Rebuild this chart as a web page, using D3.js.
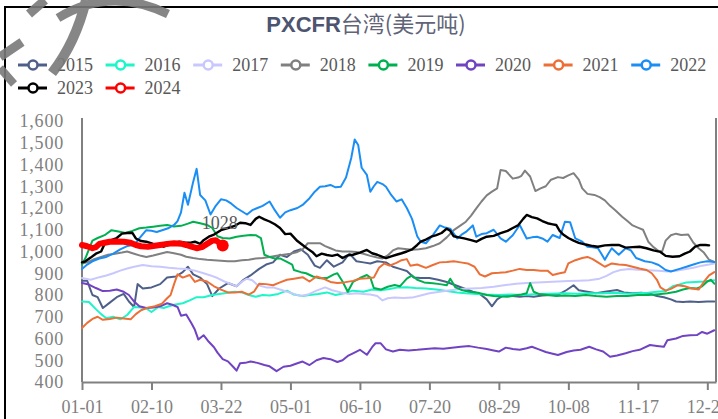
<!DOCTYPE html>
<html>
<head>
<meta charset="utf-8">
<script src="https://cdn.jsdelivr.net/npm/d3@7"></script>
<style>
  body { margin: 0; background: #fff; }
  svg { display: block; }
</style>
</head>
<body>
<div id="chart"></div>
<script>
// series: [day of year, USD/t]
const years = ["2015", "2016", "2017", "2018", "2019", "2020", "2021", "2022", "2023", "2024"];
const colors = ["#4e6089", "#1ef5c8", "#c8c8ff", "#808080", "#00b050", "#7043c2", "#eb6f36", "#1b8ef5", "#000000", "#ff0000"];

const s2015 = [[0,865],[3,865],[6,800],[9,790],[12,740],[16,765],[20,790],[24,805],[27,770],[30,745],[32,850],[35,830],[40,835],[45,850],[49,880],[54,885],[58,905],[61,930],[64,895],[68,880],[72,850],[75,795],[79,830],[84,855],[89,840],[93,870],[97,890],[102,920],[106,940],[110,950],[114,985],[118,975],[122,1000],[126,1010],[130,985],[134,935],[137,925],[141,960],[145,930],[150,950],[154,990],[158,955],[162,950],[166,945],[170,955],[175,950],[179,930],[183,920],[187,910],[191,880],[195,878],[200,878],[205,870],[210,860],[215,845],[220,830],[225,815],[229,805],[233,780],[236,748],[239,780],[243,800],[248,795],[252,792],[256,795],[260,792],[265,798],[270,800],[275,805],[279,823],[283,845],[286,822],[291,815],[296,808],[301,815],[305,820],[308,823],[312,812],[317,808],[322,810],[327,806],[331,795],[335,790],[339,780],[342,770],[346,768],[350,770],[355,768],[360,770],[364,770]];

const s2016 = [[0,770],[4,768],[8,735],[11,712],[14,693],[18,700],[22,688],[26,708],[30,745],[34,742],[37,738],[40,722],[44,745],[47,740],[50,748],[53,755],[58,762],[62,775],[66,790],[70,790],[75,800],[79,805],[84,810],[88,815],[92,812],[96,800],[100,792],[104,800],[108,798],[113,805],[118,820],[122,802],[127,795],[131,800],[136,805],[141,812],[146,800],[151,808],[156,820],[162,815],[167,825],[172,822],[177,828],[182,835],[187,836],[192,832],[198,830],[204,825],[210,818],[216,812],[221,808],[227,805],[233,802],[240,800],[247,802],[254,800],[262,805],[270,806],[278,808],[285,806],[292,808],[300,808],[307,810],[314,806],[320,808],[326,810],[331,815],[336,818],[340,840],[344,848],[348,858],[353,860],[358,862],[364,868]];

const s2017 = [[0,878],[5,870],[10,882],[14,890],[18,900],[22,912],[26,922],[30,930],[35,938],[40,932],[45,930],[50,925],[55,922],[60,920],[65,912],[70,900],[74,890],[78,878],[82,862],[86,850],[89,840],[92,862],[95,875],[98,868],[101,846],[106,835],[110,835],[114,825],[118,815],[122,805],[126,795],[130,802],[135,820],[140,835],[144,822],[149,812],[154,805],[158,808],[162,805],[166,802],[170,795],[173,775],[176,785],[180,788],[185,786],[190,788],[195,798],[200,808],[206,815],[212,822],[218,828],[224,830],[230,832],[237,838],[244,846],[250,852],[256,855],[262,858],[268,860],[274,862],[280,864],[286,866],[292,868],[298,875],[302,888],[306,905],[310,915],[315,920],[320,916],[326,914],[332,912],[337,908],[342,912],[347,918],[352,925],[357,935],[361,940],[364,945]];

const s2018 = [[0,945],[3,950],[7,965],[11,975],[15,985],[19,990],[23,995],[26,1000],[30,990],[34,980],[37,975],[41,982],[45,990],[49,998],[53,992],[57,985],[60,976],[64,970],[68,965],[72,962],[76,960],[80,958],[84,955],[88,955],[92,960],[96,962],[100,968],[104,970],[108,975],[112,980],[116,985],[120,990],[124,998],[127,1010],[130,1038],[134,1038],[137,1038],[140,1025],[143,1015],[146,1005],[150,1000],[154,1000],[158,998],[162,990],[166,980],[170,972],[173,968],[176,982],[179,1005],[182,1015],[186,1012],[190,1008],[194,1010],[198,1015],[202,1025],[206,1038],[210,1065],[214,1098],[218,1120],[221,1137],[224,1165],[227,1198],[230,1230],[233,1258],[236,1275],[239,1290],[241,1375],[244,1370],[248,1335],[251,1340],[253,1348],[255,1372],[258,1345],[261,1278],[264,1290],[267,1300],[270,1330],[274,1342],[277,1338],[280,1350],[283,1360],[286,1330],[288,1290],[291,1265],[295,1260],[298,1250],[301,1235],[304,1210],[307,1190],[311,1160],[314,1140],[317,1120],[320,1110],[323,1100],[326,1045],[329,1020],[332,1002],[334,1000],[336,1050],[339,1075],[342,1082],[345,1076],[349,1078],[352,1040],[355,1015],[358,995],[361,962],[364,952]];

const s2019 = [[0,940],[2,970],[4,1010],[6,1050],[9,1062],[13,1075],[17,1098],[21,1092],[25,1085],[29,1095],[33,1107],[37,1110],[41,1114],[45,1118],[49,1122],[53,1115],[57,1118],[61,1128],[64,1137],[68,1130],[72,1122],[75,1108],[78,1070],[81,1062],[85,1060],[89,1068],[93,1072],[97,1076],[100,1075],[103,1062],[105,985],[108,975],[111,968],[114,968],[118,952],[121,940],[122,915],[126,905],[129,900],[133,885],[137,877],[141,878],[145,895],[147,900],[150,862],[153,815],[156,860],[160,878],[164,892],[166,880],[168,832],[172,825],[176,838],[180,846],[183,840],[187,875],[190,890],[193,870],[197,858],[202,854],[206,850],[210,845],[212,875],[215,835],[219,822],[223,815],[228,810],[233,800],[237,795],[241,793],[245,792],[249,798],[253,802],[256,808],[258,855],[260,815],[263,805],[268,800],[273,795],[278,798],[284,795],[290,800],[296,795],[302,792],[308,795],[314,795],[320,800],[326,800],[332,804],[337,808],[342,815],[346,825],[350,832],[354,830],[357,840],[360,862],[362,870],[364,852]];

const s2020 = [[0,855],[4,848],[8,832],[12,818],[16,820],[20,825],[24,815],[27,800],[30,770],[33,748],[37,740],[41,742],[45,748],[49,762],[52,755],[55,745],[57,705],[60,710],[63,670],[65,640],[67,595],[70,615],[73,585],[76,560],[78,535],[81,505],[84,495],[87,470],[89,452],[91,486],[94,488],[97,494],[101,488],[105,478],[108,472],[112,450],[116,470],[120,475],[124,486],[127,494],[131,478],[135,500],[139,510],[143,505],[147,492],[150,500],[153,520],[156,532],[160,548],[164,525],[167,560],[169,578],[172,578],[175,550],[179,540],[183,548],[188,545],[193,548],[198,552],[203,555],[208,553],[213,558],[218,562],[223,565],[228,558],[233,552],[237,545],[240,540],[244,558],[248,552],[252,548],[256,555],[259,562],[263,550],[267,538],[271,530],[274,524],[279,538],[283,545],[287,548],[292,562],[296,550],[300,540],[304,516],[308,522],[313,532],[317,542],[321,548],[327,570],[331,566],[335,562],[337,592],[342,600],[346,612],[350,615],[354,616],[357,630],[360,622],[364,638]];

const s2021 = [[0,648],[3,672],[6,690],[9,700],[12,686],[16,690],[20,696],[24,692],[28,688],[31,712],[34,730],[38,742],[42,748],[46,760],[49,785],[51,800],[53,850],[55,895],[58,880],[62,892],[65,860],[68,870],[72,862],[76,840],[80,825],[84,812],[88,812],[92,815],[96,802],[99,815],[102,852],[106,850],[110,845],[114,858],[118,870],[122,875],[127,882],[131,862],[135,885],[139,875],[143,860],[147,855],[151,858],[156,865],[160,875],[164,877],[168,880],[171,925],[174,945],[177,935],[181,948],[184,960],[187,965],[189,935],[193,940],[198,925],[202,938],[206,950],[210,952],[214,955],[218,950],[222,945],[226,930],[229,895],[232,885],[236,900],[240,902],[244,905],[248,912],[252,920],[256,915],[260,915],[264,912],[268,912],[271,892],[275,900],[278,905],[280,945],[284,960],[288,970],[291,975],[294,965],[297,950],[301,930],[305,945],[309,940],[313,938],[317,930],[321,922],[325,915],[328,900],[331,870],[333,835],[336,820],[339,828],[343,845],[347,840],[351,830],[355,825],[358,860],[361,890],[364,905]];

const s2022 = [[0,920],[3,940],[6,955],[10,968],[14,975],[18,990],[22,1010],[26,1025],[30,1030],[33,1060],[37,1098],[40,1095],[43,1090],[47,1100],[50,1108],[53,1122],[55,1140],[57,1180],[59,1270],[61,1215],[64,1320],[66,1380],[68,1260],[71,1235],[74,1170],[77,1210],[80,1240],[83,1235],[86,1220],[89,1200],[92,1185],[95,1170],[98,1190],[101,1200],[104,1210],[108,1230],[111,1190],[114,1155],[117,1180],[120,1190],[124,1200],[127,1214],[131,1245],[134,1275],[137,1298],[140,1300],[143,1306],[146,1295],[149,1298],[152,1340],[155,1430],[157,1515],[159,1490],[161,1385],[164,1352],[166,1275],[168,1300],[170,1320],[173,1310],[175,1298],[178,1260],[181,1230],[184,1240],[187,1200],[190,1150],[193,1070],[195,1045],[198,1038],[202,1075],[206,1120],[209,1110],[212,1105],[216,1060],[219,1080],[221,1090],[225,1120],[227,1068],[230,1080],[233,1084],[237,1100],[241,1060],[244,1045],[248,1075],[252,1122],[256,1060],[259,1065],[262,1068],[265,1060],[268,1045],[271,1076],[275,1062],[278,1137],[281,1135],[284,1060],[288,1045],[291,1022],[294,1020],[297,1015],[299,990],[301,962],[303,990],[305,1015],[309,985],[313,1015],[316,1005],[319,970],[324,955],[328,950],[332,938],[336,915],[339,908],[344,920],[348,930],[352,940],[356,950],[360,955],[364,952]];

const s2023 = [[0,950],[2,955],[5,972],[8,990],[11,1000],[13,1035],[16,1050],[20,1062],[23,1082],[26,1085],[29,1086],[31,1060],[34,1048],[37,1045],[41,1035],[44,1030],[47,1022],[50,1030],[53,1040],[56,1045],[59,1042],[62,1040],[65,1045],[68,1035],[70,1052],[73,1068],[76,1078],[80,1098],[84,1108],[88,1118],[91,1132],[94,1130],[97,1122],[100,1150],[102,1160],[105,1148],[108,1138],[111,1125],[114,1108],[117,1080],[120,1082],[124,1048],[127,1030],[130,1012],[133,995],[135,978],[138,990],[141,984],[144,980],[147,986],[150,970],[153,982],[156,985],[160,995],[164,1007],[167,992],[170,985],[173,975],[175,970],[178,978],[181,985],[184,992],[187,1000],[190,1010],[193,1030],[195,1045],[198,1055],[201,1068],[204,1075],[207,1085],[210,1105],[212,1095],[214,1070],[217,1065],[220,1060],[224,1052],[227,1045],[230,1058],[233,1068],[237,1072],[241,1084],[245,1095],[248,1108],[251,1120],[254,1150],[256,1168],[259,1158],[262,1152],[265,1140],[268,1130],[271,1125],[273,1122],[275,1095],[277,1078],[280,1062],[283,1050],[286,1040],[290,1032],[294,1025],[297,1022],[301,1028],[305,1030],[309,1030],[313,1018],[317,1020],[321,1022],[325,1015],[329,1005],[333,998],[336,980],[340,976],[344,978],[347,990],[350,1000],[353,1022],[356,1030],[359,1030],[361,1028]];

const s2024 = [[0,1030],[3,1024],[6,1015],[8,1020],[10,1035],[13,1040],[16,1045],[20,1046],[24,1045],[28,1040],[31,1030],[34,1024],[38,1022],[41,1025],[45,1030],[49,1035],[53,1038],[57,1036],[60,1030],[63,1022],[66,1015],[69,1020],[72,1035],[75,1050],[77,1052],[79,1040],[81,1028]];

const seriesData = [s2015, s2016, s2017, s2018, s2019, s2020, s2021, s2022, s2023, s2024];

const yTicks = [400, 500, 600, 700, 800, 900, 1000, 1100, 1200, 1300, 1400, 1500, 1600];
const xTickDays = [0, 40, 80, 120, 160, 200, 240, 280, 320, 360];
const xTickLabels = ["01-01", "02-10", "03-22", "05-01", "06-10", "07-20", "08-29", "10-08", "11-17", "12-27"];

const width = 718;
const height = 419;
const margin = { top: 121, right: 2, bottom: 37, left: 82 };
const serif = "'Liberation Serif', 'DejaVu Serif', serif";

const svg = d3.select("#chart")
  .append("svg")
  .attr("width", width)
  .attr("height", height);

// outer frame
svg.append("rect")
  .attr("x", 5).attr("y", 7)
  .attr("width", width + 10).attr("height", height + 10)
  .attr("fill", "#fff")
  .attr("stroke", "#000")
  .attr("stroke-width", 2);

const x = d3.scaleLinear().domain([0, 365]).range([margin.left, width - margin.right]);
const y = d3.scaleLinear().domain([400, 1600]).range([height - margin.bottom, margin.top]);

// title
const title = svg.append("text")
  .attr("x", 366).attr("y", 32)
  .attr("text-anchor", "middle")
  .style("font-size", "22px");
title.append("tspan").text("PXCFR")
  .style("font-family", "'Liberation Sans', Arial, sans-serif")
  .style("font-weight", "bold").style("fill", "#4d5470");
title.append("tspan").text("台湾(美元吨)")
  .style("font-family", "'Noto Sans CJK SC', sans-serif")
  .style("fill", "#5f6478");

// legend
years.forEach((yr, i) => {
  const row = i < 8 ? 0 : 1;
  const col = i < 8 ? i : i - 8;
  const lx = 18 + col * 87.6;
  const ly = 65 + row * 23;
  const g = svg.append("g");
  g.append("line")
    .attr("x1", lx).attr("x2", lx + 29)
    .attr("y1", ly).attr("y2", ly)
    .attr("stroke", colors[i]).attr("stroke-width", 3);
  g.append("circle")
    .attr("cx", lx + 15).attr("cy", ly).attr("r", 4.5)
    .attr("fill", "#fff").attr("stroke", colors[i]).attr("stroke-width", 2.5);
  g.append("text")
    .attr("x", lx + 39).attr("y", ly).attr("dy", "0.35em")
    .text(yr)
    .style("font-family", serif).style("font-size", "18px").style("fill", "#595959");
});

// axes
const yAxis = svg.append("g")
  .attr("transform", `translate(${margin.left},0)`)
  .call(d3.axisLeft(y).tickValues(yTicks).tickFormat(d3.format(",")).tickSize(0).tickPadding(18));
yAxis.select(".domain").attr("stroke", "#808080").attr("stroke-width", 2).attr("d", `M0,118V${y(400)}`);
yAxis.selectAll("text")
  .style("font-family", serif).style("font-size", "18px").style("fill", "#808080")
  .style("letter-spacing", "0.8px");

svg.append("line")
  .attr("x1", x(365)).attr("x2", x(365))
  .attr("y1", 118).attr("y2", y(400))
  .attr("stroke", "#808080").attr("stroke-width", 2);

const xAxis = svg.append("g")
  .attr("transform", `translate(0,${y(400)})`)
  .call(d3.axisBottom(x).tickValues(xTickDays).tickFormat((d, i) => xTickLabels[i]).tickSize(8).tickSizeOuter(0).tickPadding(10));
xAxis.select(".domain").attr("stroke", "#808080").attr("stroke-width", 2);
xAxis.selectAll(".tick line").attr("stroke", "#808080").attr("stroke-width", 2);
xAxis.selectAll("text")
  .style("font-family", serif).style("font-size", "18px").style("fill", "#808080");

// lines
const line = d3.line().x((d) => x(d[0])).y((d) => y(d[1]));

seriesData.forEach((data, i) => {
  svg.append("path")
    .datum(data)
    .attr("d", line)
    .attr("fill", "none")
    .attr("stroke", colors[i])
    .attr("stroke-width", i === 9 ? 6 : (i === 8 ? 2.4 : 2))
    .attr("stroke-linejoin", "round")
    .attr("stroke-linecap", "round");
});

// last 2024 point + label
const last = s2024[s2024.length - 1];
svg.append("circle")
  .attr("cx", x(last[0])).attr("cy", y(last[1])).attr("r", 6)
  .attr("fill", "#ff0000");
svg.append("text")
  .attr("x", x(last[0]) - 3).attr("y", y(last[1]) - 16)
  .attr("text-anchor", "middle")
  .text(last[1])
  .style("font-family", serif).style("font-size", "18px").style("fill", "#595959");

// grey brush watermark in the corner
const wm = svg.append("g").attr("fill", "none").attr("stroke", "#7a7a7a").attr("opacity", 0.9);
wm.append("path").attr("d", "M29,14 L45,0").attr("stroke-width", 9);
wm.append("path").attr("d", "M58,18 Q110,-14 168,14").attr("stroke-width", 9);
wm.append("path").attr("d", "M86,0 Q76,42 52,73").attr("stroke-width", 10);
wm.append("path").attr("d", "M0,57 L22,42").attr("stroke-width", 9);
wm.append("path").attr("d", "M0,68 L14,84").attr("stroke-width", 8);
</script>
</body>
</html>
